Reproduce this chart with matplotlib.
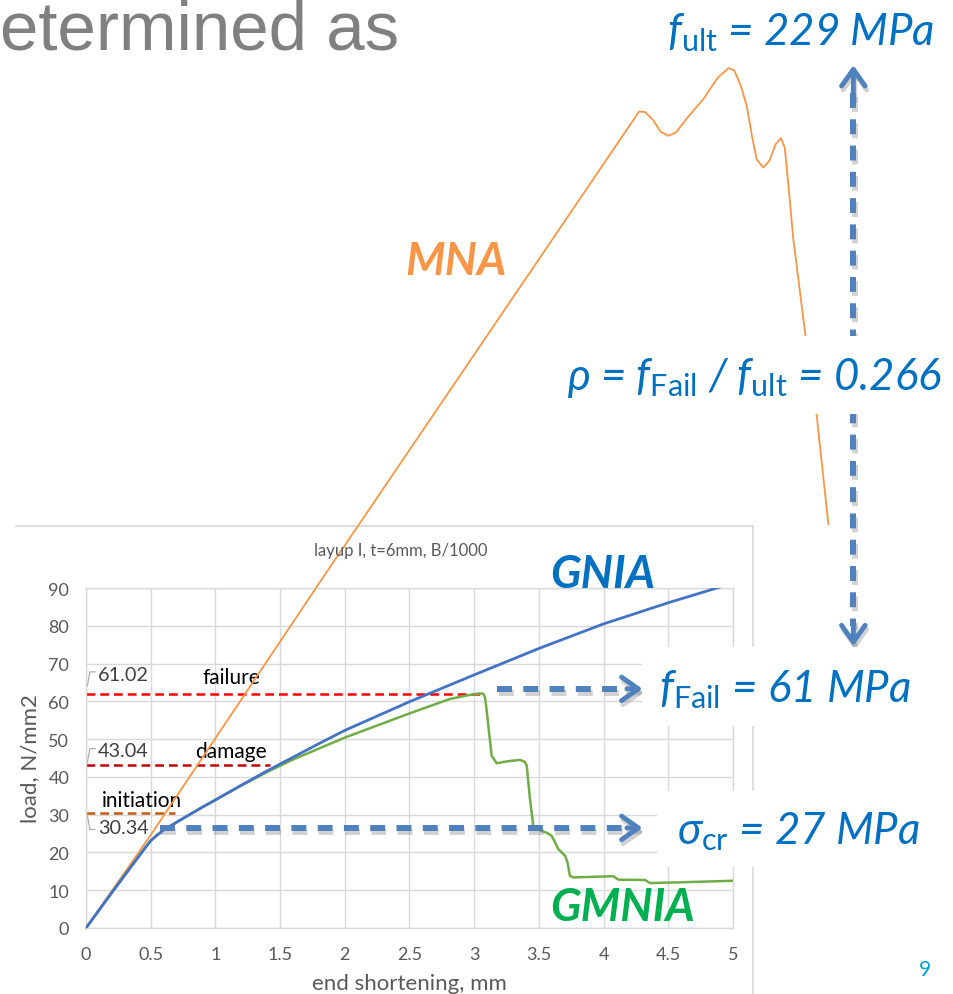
import numpy as np
import matplotlib
matplotlib.use('Agg')
import matplotlib.pyplot as plt
import matplotlib.transforms as mtransforms
from matplotlib.patches import Rectangle
from matplotlib.lines import Line2D

plt.rcParams['font.family'] = ['Lato', 'DejaVu Sans']
plt.rcParams['mathtext.fontset'] = 'custom'
plt.rcParams['mathtext.it'] = 'Lato:italic'
plt.rcParams['mathtext.rm'] = 'Lato'
plt.rcParams['mathtext.bf'] = 'Lato:bold'

# ---- data ----
mna_x = [0, 0.5, 1.23, 1.82, 4.274, 4.32, 4.38, 4.44, 4.50, 4.56, 4.65, 4.771, 4.88, 4.964, 5.01, 5.06,
         5.106, 5.15, 5.183, 5.234, 5.28, 5.33, 5.371, 5.40, 5.43, 5.466, 5.557, 5.647, 5.737]
mna_y = [0, 24.6, 62.0, 92.2, 216.1, 216.0, 214.0, 210.8, 209.7, 210.6, 214.6, 219.4, 225.0, 227.6, 227.0, 223.0,
         217.7, 209.0, 203.5, 201.3, 203.0, 207.5, 209.1, 206.5, 196.0, 182.4, 157.7, 135.6, 106.9]

gnia_x = [0, 0.2, 0.45, 0.5, 0.55, 0.6, 0.7, 0.8, 0.9, 1.0, 1.2, 1.4, 1.6, 1.8, 2.0, 2.5, 3.0, 3.5, 4.0, 4.5, 5.0]
gnia_y = [0, 9.4, 20.9, 23.1, 24.6, 25.9, 28.0, 30.0, 32.0, 33.9, 37.8, 41.6, 45.2, 48.8, 52.3, 59.9, 67.0, 74.0, 80.5, 86.1, 91.3]

gmnia_x = [0, 0.2, 0.45, 0.5, 0.55, 0.6, 0.7, 0.8, 0.9, 1.0, 1.2, 1.4, 1.6, 2.0, 2.5, 2.81, 2.95, 3.045, 3.07,
           3.083, 3.095, 3.109, 3.135, 3.174, 3.25, 3.354, 3.39, 3.406, 3.431, 3.457, 3.48,
           3.508, 3.56, 3.599, 3.65, 3.702, 3.72, 3.74, 3.766, 4.075, 4.114, 4.32, 4.359, 4.6, 5.0]
gmnia_y = [0, 9.4, 20.9, 23.1, 24.6, 25.9, 28.0, 30.0, 32.0, 33.9, 37.7, 41.3, 44.6, 50.4, 56.8, 60.6, 61.6, 62.1, 62.0,
           61.1, 58.0, 53.6, 45.6, 43.6, 44.1, 44.5, 44.0, 43.0, 34.1, 27.1, 26.2,
           25.9, 25.2, 24.4, 20.9, 19.1, 17.5, 13.8, 13.4, 13.7, 12.8, 12.7, 11.9, 12.1, 12.5]

level_names = ['initiation', 'damage', 'failure']
level_values = [30.5, 43.1, 62.0]
level_labels = ['30.34', '43.04', '61.02']
level_ends = [0.69, 1.42, 3.05]
level_colors = ['#c55a11', '#c00000', '#ff0000']

x_ticks = [0, 0.5, 1, 1.5, 2, 2.5, 3, 3.5, 4, 4.5, 5]
x_tick_labels = ['0', '0.5', '1', '1.5', '2', '2.5', '3', '3.5', '4', '4.5', '5']
y_ticks = [0, 10, 20, 30, 40, 50, 60, 70, 80, 90]

f_ult = 229
fail_arrow_y = 63.3
cr_arrow_y = 26.5

c_orange = '#f79646'
c_blue = '#4472c4'
c_green = '#70ad47'
c_txt = '#0070c0'
c_arrow = '#4f81bd'

fig = plt.figure(figsize=(9.54, 9.95), dpi=100)
ax = fig.add_axes([86/954, 66/995, 647/954, 340/995])

ax.set_xlim(0, 5)
ax.set_ylim(0, 90)
ax.set_xticks(x_ticks)
ax.set_xticklabels(x_tick_labels)
ax.set_yticks(y_ticks)
ax.grid(color='#d9d9d9', lw=1, zorder=0.5)
ax.set_axisbelow(True)
for s in ax.spines.values():
  s.set_color('#d9d9d9')
  s.set_linewidth(1)
ax.tick_params(length=0, labelsize=13, labelcolor='#595959')
ax.tick_params(axis='y', pad=12)
ax.tick_params(axis='x', pad=13)
ax.set_xlabel('end shortening, mm', fontsize=16, color='#595959', labelpad=8)
ax.set_ylabel('load, N/mm2', fontsize=16, color='#595959', labelpad=6)
ax.set_title('layup I, t=6mm, B/1000', fontsize=12, color='#595959', pad=24, x=0.486)

# level markers
for name, val, lab, xe, col in zip(level_names, level_values, level_labels, level_ends, level_colors):
  ax.plot([0, xe], [val, val], color=col, lw=1.8, dashes=(3.5, 2), zorder=2)

tl = dict(ha='center', va='center', fontsize=15, color='black', zorder=3)
ax.text(1.12, level_values[2] + 4.4, level_names[2], **tl)
ax.text(1.12, level_values[1] + 3.8, level_names[1], **tl)
ax.text(0.43, level_values[0] + 3.4, level_names[0], **tl)
vl = dict(ha='left', va='center', fontsize=14.3, color='#404040', zorder=3)
ax.text(0.09, level_values[2] + 5.0, level_labels[2], **vl)
ax.text(0.09, level_values[1] + 3.8, level_labels[1], **vl)
ax.text(0.09, level_values[0] - 4.0, level_labels[0], **vl)
# little leader lines of the data labels
ax.plot([0.01, 0.03, 0.07], [level_values[2] + 2.0, level_values[2] + 5.8, level_values[2] + 5.8], color='#a6a6a6', lw=0.8, clip_on=False)
ax.plot([0.01, 0.03, 0.07], [level_values[1] + 0.6, level_values[1] + 4.4, level_values[1] + 4.4], color='#a6a6a6', lw=0.8, clip_on=False)
ax.plot([0.01, 0.03, 0.07], [level_values[0] - 0.6, level_values[0] - 4.4, level_values[0] - 4.4], color='#a6a6a6', lw=0.8, clip_on=False)

# curves
ax.plot(mna_x, mna_y, color=c_orange, lw=1.3, zorder=3, clip_on=False)
ax.plot(gmnia_x, gmnia_y, color=c_green, lw=1.8, zorder=3)
ax.plot(gnia_x, gnia_y, color=c_blue, lw=2.0, zorder=3)

# dashed arrows (with a soft shadow drawn as an offset copy)
shadow_tr = mtransforms.offset_copy(ax.transData, fig=fig, x=1.5, y=-4, units='dots')

def dashed_arrow(x0, y0, x1, y1):
  for tr, col, al, z in [(shadow_tr, '#7f7f7f', 0.35, 3.9), (ax.transData, c_arrow, 1.0, 4)]:
    ax.plot([x0, x1], [y0, y1], color=col, alpha=al, lw=4.3, dashes=(2.5, 1.9), dash_capstyle='butt',
            clip_on=False, zorder=z, transform=tr)

def head(xt, yt, xb, yb):
  for tr, col, al, z in [(shadow_tr, '#7f7f7f', 0.35, 3.9), (ax.transData, c_arrow, 1.0, 4)]:
    ax.annotate('', xy=(xt, yt), xytext=(xb, yb), xycoords=tr, textcoords=tr, annotation_clip=False, zorder=z,
                arrowprops=dict(arrowstyle='->,head_length=1.2,head_width=0.85', lw=3.5, color=col, alpha=al,
                                shrinkA=0, shrinkB=0))

dashed_arrow(3.18, fail_arrow_y, 4.17, fail_arrow_y)
head(4.30, fail_arrow_y, 4.18, fail_arrow_y)
dashed_arrow(0.57, cr_arrow_y, 4.17, cr_arrow_y)
head(4.30, cr_arrow_y, 4.18, cr_arrow_y)
dashed_arrow(5.93, 221, 5.93, 80)
head(5.93, f_ult - 0.6, 5.93, 220)
head(5.93, 74.6, 5.93, 81)

# white boxes behind the annotations
for (bx0, by0, bx1, by1) in [(3.66, 136.0, 6.70, 156.7), (4.30, 53.5, 6.70, 74.4), (4.41, 16.1, 6.70, 36.3)]:
  ax.add_patch(Rectangle((bx0, by0), bx1 - bx0, by1 - by0, facecolor='white', edgecolor='none',
                         zorder=5, clip_on=False))

# chart area frame
fig.add_artist(Line2D([16/954, 753/954], [1 - 527/995, 1 - 527/995], color='#d9d9d9', lw=1.2, zorder=-1))
ax.plot([5.155, 5.155], [106.4, -20], color='#d9d9d9', lw=1.2, clip_on=False, zorder=0.6)

# annotation texts
ann = dict(color=c_txt, fontsize=31.5, fontstyle='italic', va='center', ha='left', zorder=6)
ax.text(4.49, 237.4, r'$f_{\mathrm{ult}}$ = 229 MPa', **ann)
ax.text(3.72, 145.8, r'$\rho$ = $f_{\mathrm{Fail}}$ / $f_{\mathrm{ult}}$ = 0.266', **ann)
ax.text(4.43, fail_arrow_y, r'$f_{\mathrm{Fail}}$ = 61 MPa', **ann)
ax.text(4.57, 25.7, r'$\sigma_{\mathrm{cr}}$ = 27 MPa', **ann)

lab = dict(fontsize=32.5, fontstyle='italic', fontweight='bold', ha='center', va='center', zorder=6)
ax.text(2.86, 176.5, 'MNA', color=c_orange, **lab)
ax.text(3.99, 93.7, 'GNIA', color=c_txt, **lab)
ax.text(4.15, 5.6, 'GMNIA', color='#00b050', **lab)

fig.text(0.0, 1 - 50/995, 'etermined as', fontsize=49.8, color='#808080', family='Liberation Sans',
         ha='left', va='baseline')
fig.text(925/954, 1 - 970/995, '9', fontsize=15, color='#00a0d6', ha='center', va='center')

fig.savefig('out.png', dpi=100)
